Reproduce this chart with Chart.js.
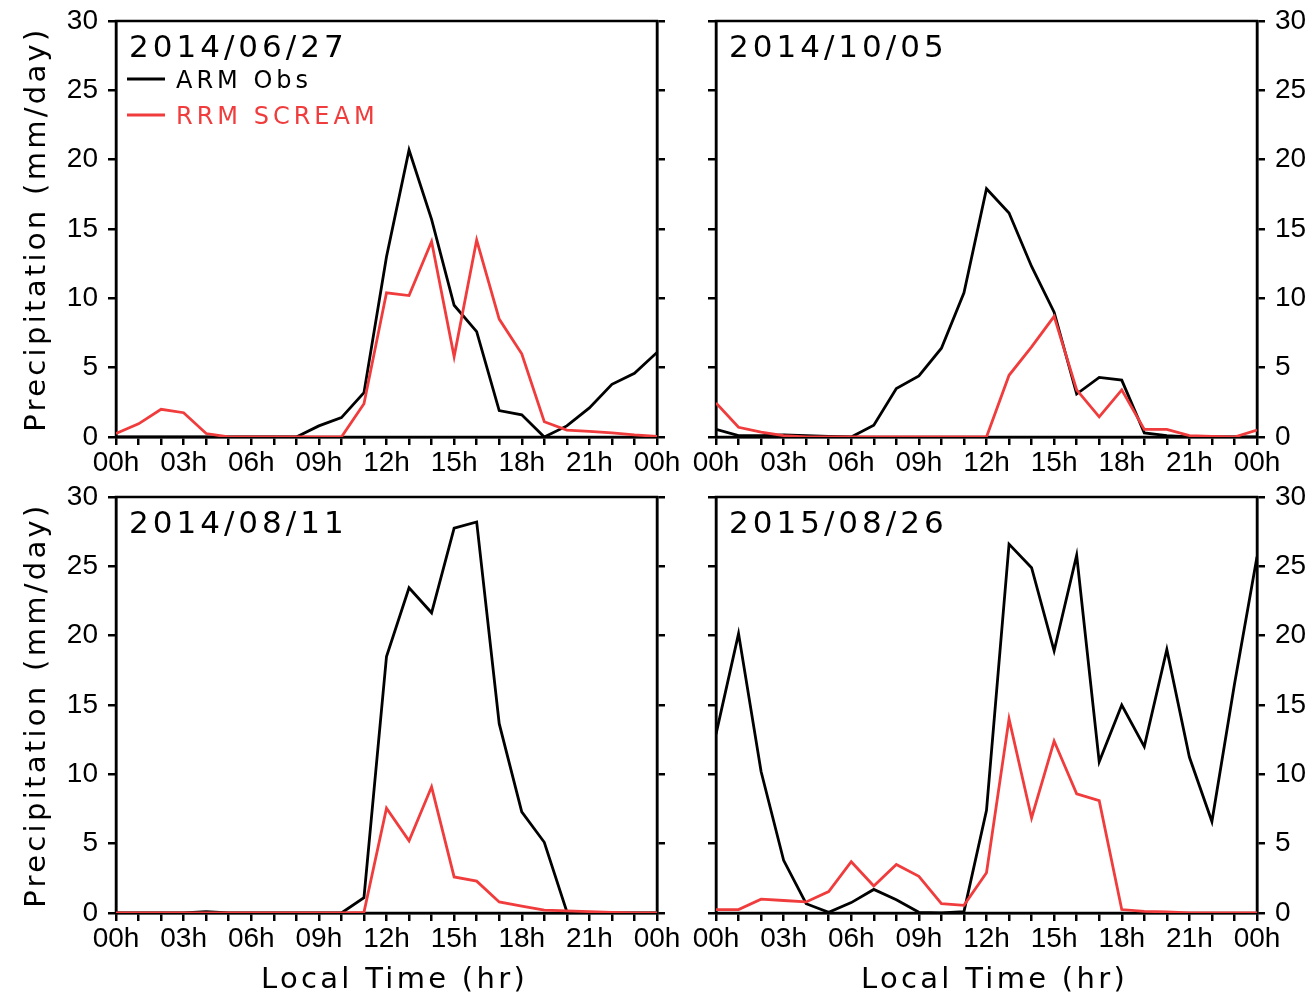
<!DOCTYPE html>
<html>
<head>
<meta charset="utf-8">
<title>ARM Obs vs RRM SCREAM precipitation</title>
<script src="https://cdn.jsdelivr.net/npm/chart.js@4.4.0/dist/chart.umd.min.js"></script>
<style>
  body { margin: 0; background: #fff; }
  #wrap { position: relative; width: 1310px; height: 998px; }
  canvas { position: absolute; }
</style>
</head>
<body>
<div id="wrap">
  <canvas id="p1" width="687" height="487" style="left:0;top:0"></canvas>
  <canvas id="p2" width="624" height="487" style="left:686px;top:0"></canvas>
  <canvas id="p3" width="687" height="522" style="left:0;top:476px"></canvas>
  <canvas id="p4" width="624" height="522" style="left:686px;top:476px"></canvas>
</div>
<script>
// Hours of the day (local time)
const hours = [0, 1, 2, 3, 4, 5, 6, 7, 8, 9, 10, 11, 12, 13, 14, 15, 16, 17, 18, 19, 20, 21, 22, 23, 24];
const hourLabels = ['00h', '03h', '06h', '09h', '12h', '15h', '18h', '21h', '00h'];
const yMin = 0, yMax = 30, yStep = 5;

const seriesNames = ['ARM Obs', 'RRM SCREAM'];
const dates = ['2014/06/27', '2014/10/05', '2014/08/11', '2015/08/26'];

// Precipitation (mm/day)
const obs0627 = [0, 0, 0, 0, 0, 0, 0, 0, 0, 0.8, 1.4, 3.2, 13.0, 20.7, 15.7, 9.5, 7.6, 1.9, 1.6, 0, 0.8, 2.1, 3.8, 4.6, 6.1];
const sim0627 = [0.25, 0.95, 2.0, 1.75, 0.25, 0, 0, 0, 0, 0, 0, 2.4, 10.4, 10.2, 14.1, 5.8, 14.2, 8.5, 6.0, 1.1, 0.5, 0.4, 0.3, 0.15, 0.05];

const obs1005 = [0.55, 0.1, 0.1, 0.15, 0.1, 0.05, 0, 0.85, 3.5, 4.4, 6.4, 10.4, 17.9, 16.15, 12.3, 9.0, 3.1, 4.3, 4.1, 0.3, 0.1, 0, 0, 0, 0];
const sim1005 = [2.45, 0.7, 0.35, 0.1, 0, 0, 0, 0, 0, 0, 0, 0, 0, 4.45, 6.5, 8.7, 3.4, 1.45, 3.4, 0.55, 0.55, 0.1, 0.05, 0, 0.5];

const obs0811 = [0, 0, 0, 0, 0.1, 0, 0, 0, 0, 0, 0, 1.1, 18.5, 23.45, 21.65, 27.75, 28.2, 13.65, 7.3, 5.1, 0.1, 0, 0, 0, 0];
const sim0811 = [0, 0, 0, 0, 0, 0, 0, 0, 0, 0, 0, 0.05, 7.55, 5.2, 9.1, 2.6, 2.3, 0.8, 0.5, 0.2, 0.15, 0.1, 0.05, 0, 0];

const obs0826 = [12.9, 20.15, 10.2, 3.8, 0.67, 0.05, 0.75, 1.7, 0.95, 0.05, 0, 0.1, 7.4, 26.6, 24.9, 18.9, 25.8, 10.9, 15.0, 12.0, 19.0, 11.25, 6.6, 16.5, 25.7];
const sim0826 = [0.25, 0.25, 1.0, 0.9, 0.8, 1.55, 3.7, 1.95, 3.5, 2.65, 0.67, 0.55, 2.9, 14.0, 6.85, 12.4, 8.6, 8.1, 0.25, 0.12, 0.08, 0, 0, 0, 0];

const obsColor = '#000000';
const simColor = '#f03c3c';

Chart.defaults.font.family = '"Liberation Sans", Arial, sans-serif';
Chart.defaults.font.size = 28;
Chart.defaults.color = '#000';

const labelFont = '"DejaVu Sans", sans-serif';

// frame, panel date, legend and axis titles
const panelText = {
    id: 'panelText',
    beforeDatasetsDraw(chart) {
        const { ctx, chartArea: a } = chart;
        ctx.save();
        ctx.strokeStyle = '#000';
        ctx.lineWidth = 2.5;
        ctx.strokeRect(a.left, a.top, a.right - a.left, a.bottom - a.top);
        ctx.restore();
    },
    afterDraw(chart, args, opts) {
        const { ctx, chartArea: a } = chart;
        ctx.save();
        ctx.fillStyle = '#000';
        ctx.textAlign = 'left';
        ctx.textBaseline = 'alphabetic';

        // date
        ctx.font = '31px ' + labelFont;
        ctx.letterSpacing = '4px';
        ctx.fillText(opts.date, a.left + 13, a.top + 36);

        // legend
        if (opts.legend) {
            ctx.font = '24px ' + labelFont;
            ctx.letterSpacing = '4px';
            chart.data.datasets.slice().reverse().forEach((ds, i) => {
                const y = a.top + 58 + i * 36;
                ctx.strokeStyle = ds.borderColor;
                ctx.lineWidth = 2.8;
                ctx.beginPath();
                ctx.moveTo(a.left + 11, y);
                ctx.lineTo(a.left + 49, y);
                ctx.stroke();
                ctx.fillStyle = ds.borderColor;
                ctx.fillText(ds.label, a.left + 60, y + 9);
            });
        }

        ctx.fillStyle = '#000';
        ctx.font = '29px ' + labelFont;
        ctx.letterSpacing = '3.3px';

        if (opts.xTitle) {
            ctx.textAlign = 'center';
            ctx.fillText('Local Time (hr)', (a.left + a.right) / 2 + 8, a.bottom + 75);
        }
        if (opts.yTitle) {
            ctx.translate(45, (a.top + a.bottom) / 2);
            ctx.rotate(-Math.PI / 2);
            ctx.textAlign = 'center';
            ctx.fillText('Precipitation (mm/day)', 0, 0);
        }
        ctx.restore();
    }
};

function axisGrid() {
    return {
        drawOnChartArea: false,
        drawTicks: true,
        tickLength: 8,
        color: '#000',
        lineWidth: 2.5
    };
}

function makePanel(id, date, obs, sim, cfg) {
    const ctx = document.getElementById(id).getContext('2d');
    new Chart(ctx, {
        type: 'line',
        data: {
            datasets: [{
                label: seriesNames[1],
                data: hours.map((h, i) => ({ x: h, y: sim[i] })),
                borderColor: simColor,
                order: 1
            }, {
                label: seriesNames[0],
                data: hours.map((h, i) => ({ x: h, y: obs[i] })),
                borderColor: obsColor,
                order: 2
            }]
        },
        options: {
            responsive: false,
            animation: false,
            layout: { padding: { top: 21, left: 0, right: 0, bottom: 0 } },
            elements: {
                line: { borderWidth: 2.8, tension: 0 },
                point: { radius: 0 }
            },
            plugins: {
                legend: { display: false },
                tooltip: { enabled: false },
                panelText: { date: date, legend: cfg.legend, xTitle: cfg.xTitle, yTitle: cfg.leftLabels }
            },
            scales: {
                x: {
                    type: 'linear',
                    min: 0,
                    max: 24,
                    grid: axisGrid(),
                    border: { color: '#000', width: 2.5 },
                    ticks: {
                        stepSize: 1,
                        autoSkip: false,
                        maxRotation: 0,
                        padding: 1,
                        callback: v => (v % 3 === 0 ? hourLabels[v / 3] : '')
                    },
                    afterFit: s => { s.height = cfg.bottom; s.paddingLeft = 0; s.paddingRight = 0; }
                },
                y: {
                    position: 'left',
                    min: yMin,
                    max: yMax,
                    grid: axisGrid(),
                    border: { color: '#000', width: 2.5 },
                    ticks: { stepSize: yStep, display: cfg.leftLabels, padding: 10 },
                    afterFit: s => { s.width = cfg.leftW; s.paddingTop = 0; s.paddingBottom = 0; }
                },
                y2: {
                    position: 'right',
                    min: yMin,
                    max: yMax,
                    grid: axisGrid(),
                    border: { color: '#000', width: 2.5 },
                    ticks: { stepSize: yStep, display: !cfg.leftLabels, padding: 10 },
                    afterFit: s => { s.width = cfg.rightW; s.paddingTop = 0; s.paddingBottom = 0; }
                }
            }
        },
        plugins: [panelText]
    });
}

document.addEventListener('DOMContentLoaded', () => {
    makePanel('p1', dates[0], obs0627, sim0627, { legend: true, xTitle: false, leftLabels: true, leftW: 116, rightW: 30, bottom: 50 });
    makePanel('p2', dates[1], obs1005, sim1005, { legend: false, xTitle: false, leftLabels: false, leftW: 30, rightW: 53, bottom: 50 });
    makePanel('p3', dates[2], obs0811, sim0811, { legend: false, xTitle: true, leftLabels: true, leftW: 116, rightW: 30, bottom: 85 });
    makePanel('p4', dates[3], obs0826, sim0826, { legend: false, xTitle: true, leftLabels: false, leftW: 30, rightW: 53, bottom: 85 });
});
</script>
</body>
</html>
